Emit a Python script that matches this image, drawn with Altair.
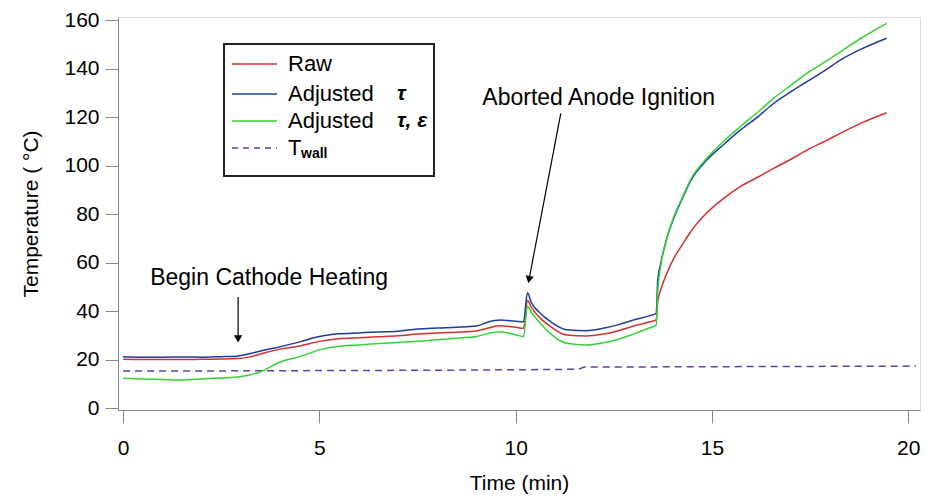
import altair as alt
import pandas as pd

# ---------------- data ----------------
t_main = [0, 0.5, 1, 1.5, 2, 2.5, 2.9, 3.2, 3.5, 4, 4.5, 5, 5.5, 6, 6.5, 7, 7.5,
          8, 8.5, 9, 9.3, 9.6, 10.0, 10.2, 10.3, 10.4, 10.6, 10.9, 11.3, 11.8,
          12.2, 12.6, 13.0, 13.4, 13.58, 13.62, 13.7, 13.85, 14.02, 14.25, 14.45,
          14.87, 15.3, 15.72, 16.2, 16.57, 17.0, 17.42, 17.9, 18.27, 18.8, 19.45]

raw = [20.1, 20.0, 20.0, 20.0, 20.1, 20.2, 20.4, 21.0, 22.3, 24.3, 25.6, 27.5, 28.6,
       29.0, 29.4, 29.8, 30.5, 31.0, 31.3, 31.8, 33.0, 33.9, 33.3, 32.9, 44.5, 41.5,
       37.5, 33.5, 30.1, 29.7, 30.4, 31.8, 33.8, 35.5, 36.3, 44.0, 49.0, 55.5, 61.5,
       67.5, 72.5, 80.5, 86.5, 91.3, 95.5, 98.8, 102.5, 106.4, 110.2, 113.3, 117.5, 121.8]

adj_tau = [21.2, 21.0, 21.0, 21.1, 21.0, 21.2, 21.4, 22.3, 23.5, 25.3, 27.3, 29.5, 30.6,
           31.0, 31.4, 31.7, 32.6, 33.0, 33.3, 33.8, 35.5, 36.3, 35.8, 35.6, 47.5, 43.5,
           39.5, 35.5, 32.3, 31.9, 32.8, 34.3, 36.3, 38.0, 39.0, 53.0, 60.0, 70.0, 78.0,
           86.5, 93.5, 102.3, 108.7, 114.6, 120.5, 125.6, 130.3, 134.6, 139.5, 143.5, 148.0, 152.5]

adj_tau_eps = [12.3, 12.0, 11.8, 11.6, 12.0, 12.4, 12.8, 13.5, 15.0, 19.0, 21.2, 24.0, 25.5,
               26.0, 26.6, 27.0, 27.5, 28.2, 28.8, 29.5, 30.8, 31.5, 30.2, 29.4, 42.0, 39.5,
               35.5, 30.5, 26.7, 26.0, 26.8, 28.3, 30.5, 33.0, 34.2, 48.0, 59.0, 70.0, 78.5,
               87.0, 94.0, 103.0, 110.0, 116.0, 122.5, 127.7, 133.0, 138.0, 143.0, 146.9, 152.5, 158.6]

t_wall = [0, 2, 4, 6, 8, 10, 11.6, 11.75, 14, 16, 18, 20.2]
wall = [15.3, 15.3, 15.4, 15.5, 15.6, 15.8, 16.0, 16.9, 17.0, 17.1, 17.2, 17.3]

series_names = ["Raw", "Adjusted τ", "Adjusted τ, ε"]
series_colors = ["#d43030", "#1f3c9c", "#34d234"]
wall_color = "#6040a0"

x_ticks = [0, 5, 10, 15, 20]
y_ticks = [0, 20, 40, 60, 80, 100, 120, 140, 160]

# annotations (data coordinates)
ann_text = ["Begin Cathode Heating", "Aborted Anode Ignition"]
ann_tx = [0.69, 9.15]
ann_ty = [50.7, 124.9]
arrow_x1 = [2.93, 11.15]
arrow_y1 = [45.8, 121.5]
arrow_x2 = [2.93, 10.34]
arrow_y2 = [28.5, 53.0]
arrow_angle = [0, 10.7]

# ---------------- build tables ----------------
rows = []
for name, vals in zip(series_names, [raw, adj_tau, adj_tau_eps]):
    for t, v in zip(t_main, vals):
        rows.append({"t": t, "T": v, "series": name})
df = pd.DataFrame(rows)
df_wall = pd.DataFrame({"t": t_wall, "T": wall})
df_ann = pd.DataFrame({"text": ann_text, "x": ann_tx, "y": ann_ty})
df_arrow = pd.DataFrame({"x1": arrow_x1, "y1": arrow_y1, "x2": arrow_x2,
                         "y2": arrow_y2, "angle": arrow_angle})

FONT = "Liberation Sans"

xscale = alt.Scale(domain=[-0.13, 20.3], nice=False, zero=False)
yscale = alt.Scale(domain=[-0.8, 161.26], nice=False, zero=False)

xenc = alt.X("t:Q", scale=xscale,
             axis=alt.Axis(title="Time (min)", values=x_ticks, labelFontSize=21,
                           titleFontSize=21, titlePadding=14, labelPadding=14,
                           tickSize=13, grid=False, titleFontWeight=400))
yenc = alt.Y("T:Q", scale=yscale,
             axis=alt.Axis(title="Temperature ( °C)", values=y_ticks, labelFontSize=21,
                           titleFontSize=21, titlePadding=22, labelPadding=6,
                           tickSize=13, grid=False, titleFontWeight=400))

lines = alt.Chart(df).mark_line(strokeWidth=1.5, interpolate="monotone").encode(
    x=xenc, y=yenc,
    color=alt.Color("series:N", scale=alt.Scale(domain=series_names, range=series_colors),
                    legend=None),
    order=alt.Order("t:Q"),
)

wall_line = alt.Chart(df_wall).mark_line(strokeWidth=1.5, strokeDash=[7, 5],
                                         color=wall_color).encode(
    x=alt.X("t:Q", scale=xscale), y=alt.Y("T:Q", scale=yscale))

ann = alt.Chart(df_ann).mark_text(align="left", baseline="alphabetic", fontSize=23,
                                  font=FONT, color="black").encode(
    x=alt.X("x:Q", scale=xscale), y=alt.Y("y:Q", scale=yscale), text="text:N")

arrow_lines = alt.Chart(df_arrow).mark_rule(strokeWidth=1.2, color="black").encode(
    x=alt.X("x1:Q", scale=xscale), y=alt.Y("y1:Q", scale=yscale),
    x2="x2:Q", y2="y2:Q")

arrow_heads = alt.Chart(df_arrow).mark_point(shape="triangle-down", filled=True,
                                             size=70, color="black", opacity=1).encode(
    x=alt.X("x2:Q", scale=xscale), y=alt.Y("y2:Q", scale=yscale),
    angle=alt.Angle("angle:Q", scale=None))

# ---------------- manual legend ----------------
dummy = alt.Data(values=[{}])
leg_layers = [
    alt.Chart(dummy).mark_rect(fill="white", stroke="#222222", strokeWidth=2).encode(
        x=alt.value(106), x2=alt.value(316), y=alt.value(27), y2=alt.value(159))
]
row_y = [47, 77, 104, 131]
for i, (c, yy) in enumerate(zip(series_colors, row_y[:3])):
    leg_layers.append(alt.Chart(dummy).mark_rule(color=c, strokeWidth=1.6).encode(
        x=alt.value(114), x2=alt.value(159), y=alt.value(yy)))
leg_layers.append(alt.Chart(dummy).mark_rule(color=wall_color, strokeWidth=1.5,
                                             strokeDash=[6, 5]).encode(
    x=alt.value(114), x2=alt.value(159), y=alt.value(row_y[3])))
leg_layers.append(alt.Chart(dummy).mark_text(align="left", baseline="middle",
                                             fontSize=22, font=FONT).encode(
    x=alt.value(170), y=alt.value(row_y[0]), text=alt.value("Raw")))
for yy, sym in zip(row_y[1:3], ["τ", "τ, ε"]):
    leg_layers.append(alt.Chart(dummy).mark_text(align="left", baseline="middle",
                                                 fontSize=22, font=FONT).encode(
        x=alt.value(170), y=alt.value(yy), text=alt.value("Adjusted")))
    leg_layers.append(alt.Chart(dummy).mark_text(align="left", baseline="middle",
                                                 fontSize=21, font=FONT, fontStyle="italic",
                                                 fontWeight="bold").encode(
        x=alt.value(279), y=alt.value(yy), text=alt.value(sym)))
leg_layers.append(alt.Chart(dummy).mark_text(align="left", baseline="middle",
                                             fontSize=22, font=FONT).encode(
    x=alt.value(170), y=alt.value(row_y[3]), text=alt.value("T")))
leg_layers.append(alt.Chart(dummy).mark_text(align="left", baseline="middle",
                                             fontSize=14, font=FONT, fontWeight="bold").encode(
    x=alt.value(183), y=alt.value(row_y[3] + 6), text=alt.value("wall")))

chart = alt.layer(wall_line, lines, arrow_lines, arrow_heads, ann, *leg_layers).properties(
    width=802, height=393,
    autosize=alt.AutoSizeParams(type="none"),
    padding={"left": 110, "top": 9, "right": 4, "bottom": 84},
).configure_view(stroke="#222222", strokeWidth=2).configure_axis(
    labelFont=FONT, titleFont=FONT, labelColor="black", titleColor="black",
    titleFontWeight=400, domainColor="#222222", tickColor="#222222",
    domainWidth=2, tickWidth=1.5,
).configure(background="white")

chart.save("out.html", embed_options={"renderer": "svg", "actions": False})
